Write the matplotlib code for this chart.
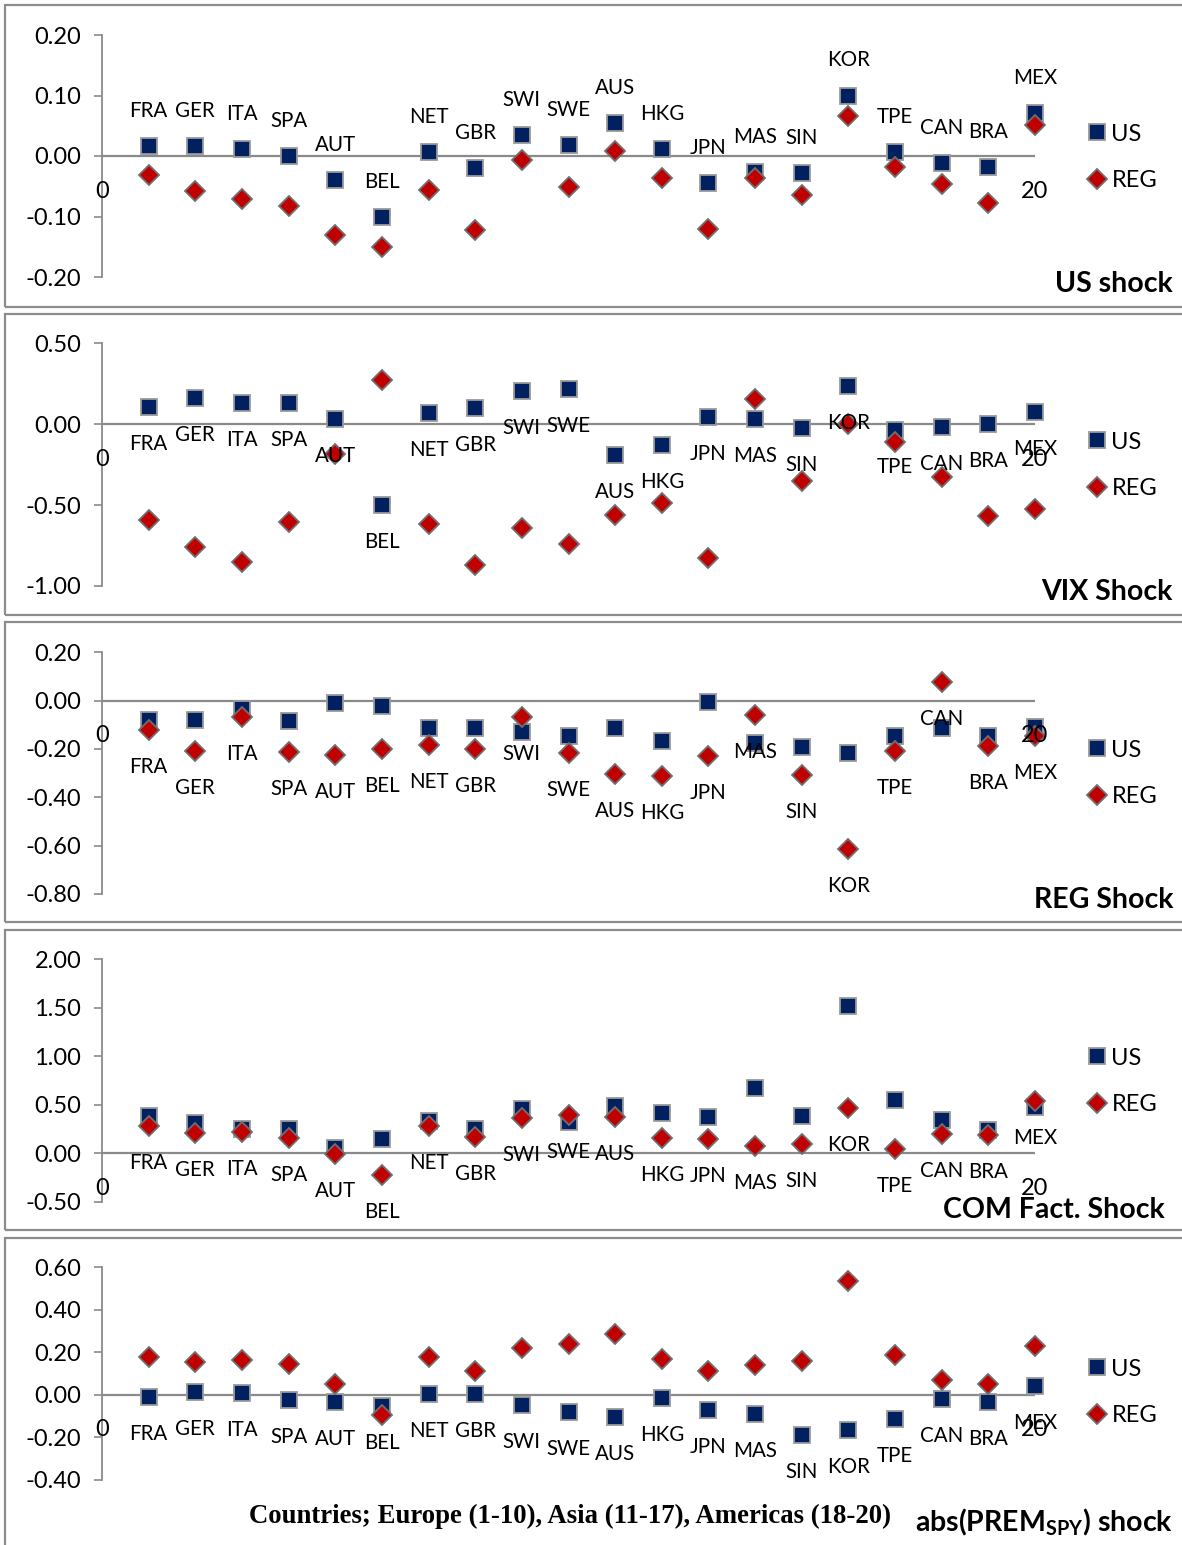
import matplotlib
matplotlib.use("Agg")
import matplotlib.pyplot as plt
from matplotlib.patches import Rectangle

plt.rcParams['font.family'] = ['Lato', 'DejaVu Sans']
plt.rcParams['mathtext.fontset'] = 'custom'
plt.rcParams['mathtext.rm'] = 'Lato:bold'
plt.rcParams['mathtext.it'] = 'Lato:bold:italic'
plt.rcParams['mathtext.bf'] = 'Lato:bold'

# ---------------- data ----------------
countries = ["FRA", "GER", "ITA", "SPA", "AUT", "BEL", "NET", "GBR", "SWI", "SWE",
             "AUS", "HKG", "JPN", "MAS", "SIN", "KOR", "TPE", "CAN", "BRA", "MEX"]

us_shock_US = [0.017, 0.017, 0.011, 0.000, -0.039, -0.101, 0.007, -0.020, 0.035, 0.019,
               0.055, 0.012, -0.045, -0.026, -0.028, 0.100, 0.006, -0.012, -0.018, 0.071]
us_shock_REG = [-0.031, -0.058, -0.071, -0.082, -0.131, -0.150, -0.056, -0.122, -0.007, -0.052,
                0.008, -0.036, -0.121, -0.036, -0.064, 0.066, -0.018, -0.047, -0.078, 0.051]

vix_shock_US = [0.109, 0.160, 0.133, 0.133, 0.031, -0.498, 0.072, 0.099, 0.206, 0.216,
                -0.190, -0.128, 0.047, 0.031, -0.025, 0.236, -0.035, -0.015, 0.002, 0.078]
vix_shock_REG = [-0.591, -0.759, -0.852, -0.605, -0.183, 0.273, -0.615, -0.873, -0.642, -0.739,
                 -0.560, -0.488, -0.827, 0.154, -0.350, 0.002, -0.113, -0.327, -0.566, -0.525]

reg_shock_US = [-0.080, -0.080, -0.034, -0.085, -0.010, -0.023, -0.114, -0.114, -0.128, -0.147,
                -0.113, -0.168, -0.004, -0.176, -0.190, -0.216, -0.147, -0.113, -0.145, -0.110]
reg_shock_REG = [-0.120, -0.207, -0.069, -0.211, -0.223, -0.202, -0.182, -0.200, -0.066, -0.216,
                 -0.303, -0.310, -0.230, -0.058, -0.307, -0.613, -0.207, 0.076, -0.186, -0.145]

com_shock_US = [0.388, 0.316, 0.247, 0.247, 0.052, 0.147, 0.336, 0.247, 0.454, 0.326,
                0.488, 0.412, 0.378, 0.676, 0.385, 1.522, 0.550, 0.343, 0.240, 0.480]
com_shock_REG = [0.281, 0.206, 0.223, 0.155, -0.007, -0.224, 0.281, 0.165, 0.361, 0.395,
                 0.378, 0.155, 0.144, 0.075, 0.096, 0.464, 0.044, 0.199, 0.189, 0.543]

prem_shock_US = [-0.011, 0.016, 0.008, -0.024, -0.031, -0.052, 0.003, 0.003, -0.047, -0.082,
                 -0.105, -0.016, -0.071, -0.089, -0.188, -0.165, -0.115, -0.020, -0.031, 0.044]
prem_shock_REG = [0.180, 0.154, 0.165, 0.144, 0.052, -0.094, 0.177, 0.113, 0.220, 0.238,
                  0.287, 0.169, 0.114, 0.141, 0.160, 0.536, 0.188, 0.071, 0.052, 0.231]

series_names = ["US", "REG"]
panel_titles = ["US shock", "VIX Shock", "REG Shock", "COM Fact. Shock",
                r"abs(PREM$_{\mathrm{SPY}}$) shock"]
x_axis_title = "Countries; Europe (1-10), Asia (11-17), Americas (18-20)"
x_tick_labels = ["0", "20"]

y_ticks = [
    [-0.20, -0.10, 0.00, 0.10, 0.20],
    [-1.00, -0.50, 0.00, 0.50],
    [-0.80, -0.60, -0.40, -0.20, 0.00, 0.20],
    [-0.50, 0.00, 0.50, 1.00, 1.50, 2.00],
    [-0.40, -0.20, 0.00, 0.20, 0.40, 0.60],
]

# ---------------- layout ----------------
W, H = 1182, 1545
fig = plt.figure(figsize=(W / 100, H / 100), dpi=100)

US_COLOR = "#002060"
REG_COLOR = "#C00000"
AXIS = "#8a8a8a"

# (frame top, frame bottom, axes top px, axes bottom px, label series, label offset px, title y, legend centre y)
layout = [
    (5, 307, 35.0, 277.0, "US", 35, 284, 157.5),
    (314, 615, 343.3, 586.0, "US", -37, 592, 465.5),
    (622, 922, 652.3, 894.0, "REG", -37, 900, 773.5),
    (930, 1230, 959.3, 1201.7, "REG", -37, 1210, 1081.5),
    (1238, 1560, 1267.3, 1480.0, "US", -37, 1522, 1392.5),
]
title_right = [1173, 1173, 1173, 1165, 1173]

data = [
    (us_shock_US, us_shock_REG),
    (vix_shock_US, vix_shock_REG),
    (reg_shock_US, reg_shock_REG),
    (com_shock_US, com_shock_REG),
    (prem_shock_US, prem_shock_REG),
]

xpos = list(range(1, len(countries) + 1))
LEFT, RIGHT = 102, 1035

for i, ((usv, regv), (ftop, fbot, atop, abot, lab_series, lab_off, ty, ly)) in enumerate(zip(data, layout)):
    # frame
    fig.add_artist(Rectangle((5 / W, 1 - fbot / H), (1200 - 5) / W, (fbot - ftop) / H,
                             transform=fig.transFigure, fill=False, ec="#8c8c8c", lw=1.6))
    ax = fig.add_axes([LEFT / W, 1 - abot / H, (RIGHT - LEFT) / W, (abot - atop) / H])
    ax.set_facecolor("none")
    ticks = y_ticks[i]
    ax.set_xlim(0, 20)
    ax.set_ylim(ticks[0], ticks[-1])
    for s in ["top", "right", "bottom"]:
        ax.spines[s].set_visible(False)
    ax.spines["left"].set_color(AXIS)
    ax.spines["left"].set_linewidth(1.3)
    ax.set_yticks(ticks)
    ax.set_yticklabels([f"{t:.2f}" for t in ticks], fontsize=17)
    ax.tick_params(axis="y", direction="out", length=6, width=1.2, color=AXIS, pad=9)
    ax.set_xticks([])
    ax.axhline(0, color=AXIS, lw=1.6, zorder=1)

    h_us, = ax.plot(xpos, usv, linestyle="none", marker="s", markersize=11,
                    markerfacecolor=US_COLOR, markeredgecolor="#9a9a9a", markeredgewidth=1.3,
                    zorder=3, clip_on=False, label=series_names[0])
    h_reg, = ax.plot(xpos, regv, linestyle="none", marker="D", markersize=10.5,
                     markerfacecolor=REG_COLOR, markeredgecolor="#6f6f6f", markeredgewidth=1.3,
                     zorder=4, clip_on=False, label=series_names[1])

    # x-axis tick labels "0" and "20"
    for xv, txt in zip([0, 20], x_tick_labels):
        ax.annotate(txt, (xv, 0), xytext=(0, -35), textcoords="offset pixels",
                    ha="center", va="center", fontsize=17, zorder=5, annotation_clip=False)

    # data labels
    lab_vals = usv if lab_series == "US" else regv
    for xv, yv, c in zip(xpos, lab_vals, countries):
        ax.annotate(c, (xv, yv), xytext=(0, lab_off), textcoords="offset pixels",
                    ha="center", va="center", fontsize=14.8, zorder=5, annotation_clip=False)

    # legend
    ax.legend(handles=[h_us, h_reg], loc="center left",
              bbox_to_anchor=(1076 / W, 1 - ly / H), bbox_transform=fig.transFigure,
              frameon=False, fontsize=17, handlelength=0.8, handletextpad=0.2,
              labelspacing=1.1, borderpad=0, markerscale=1.0)

    # panel title
    fig.text(title_right[i] / W, 1 - ty / H, panel_titles[i], ha="right", va="center",
             fontsize=20.5, fontweight="bold")

fig.text(570 / W, 1 - 1516 / H, x_axis_title, ha="center", va="center",
         fontsize=19.3, fontweight="bold", family="Liberation Serif")

fig.savefig("out.png", dpi=100)
